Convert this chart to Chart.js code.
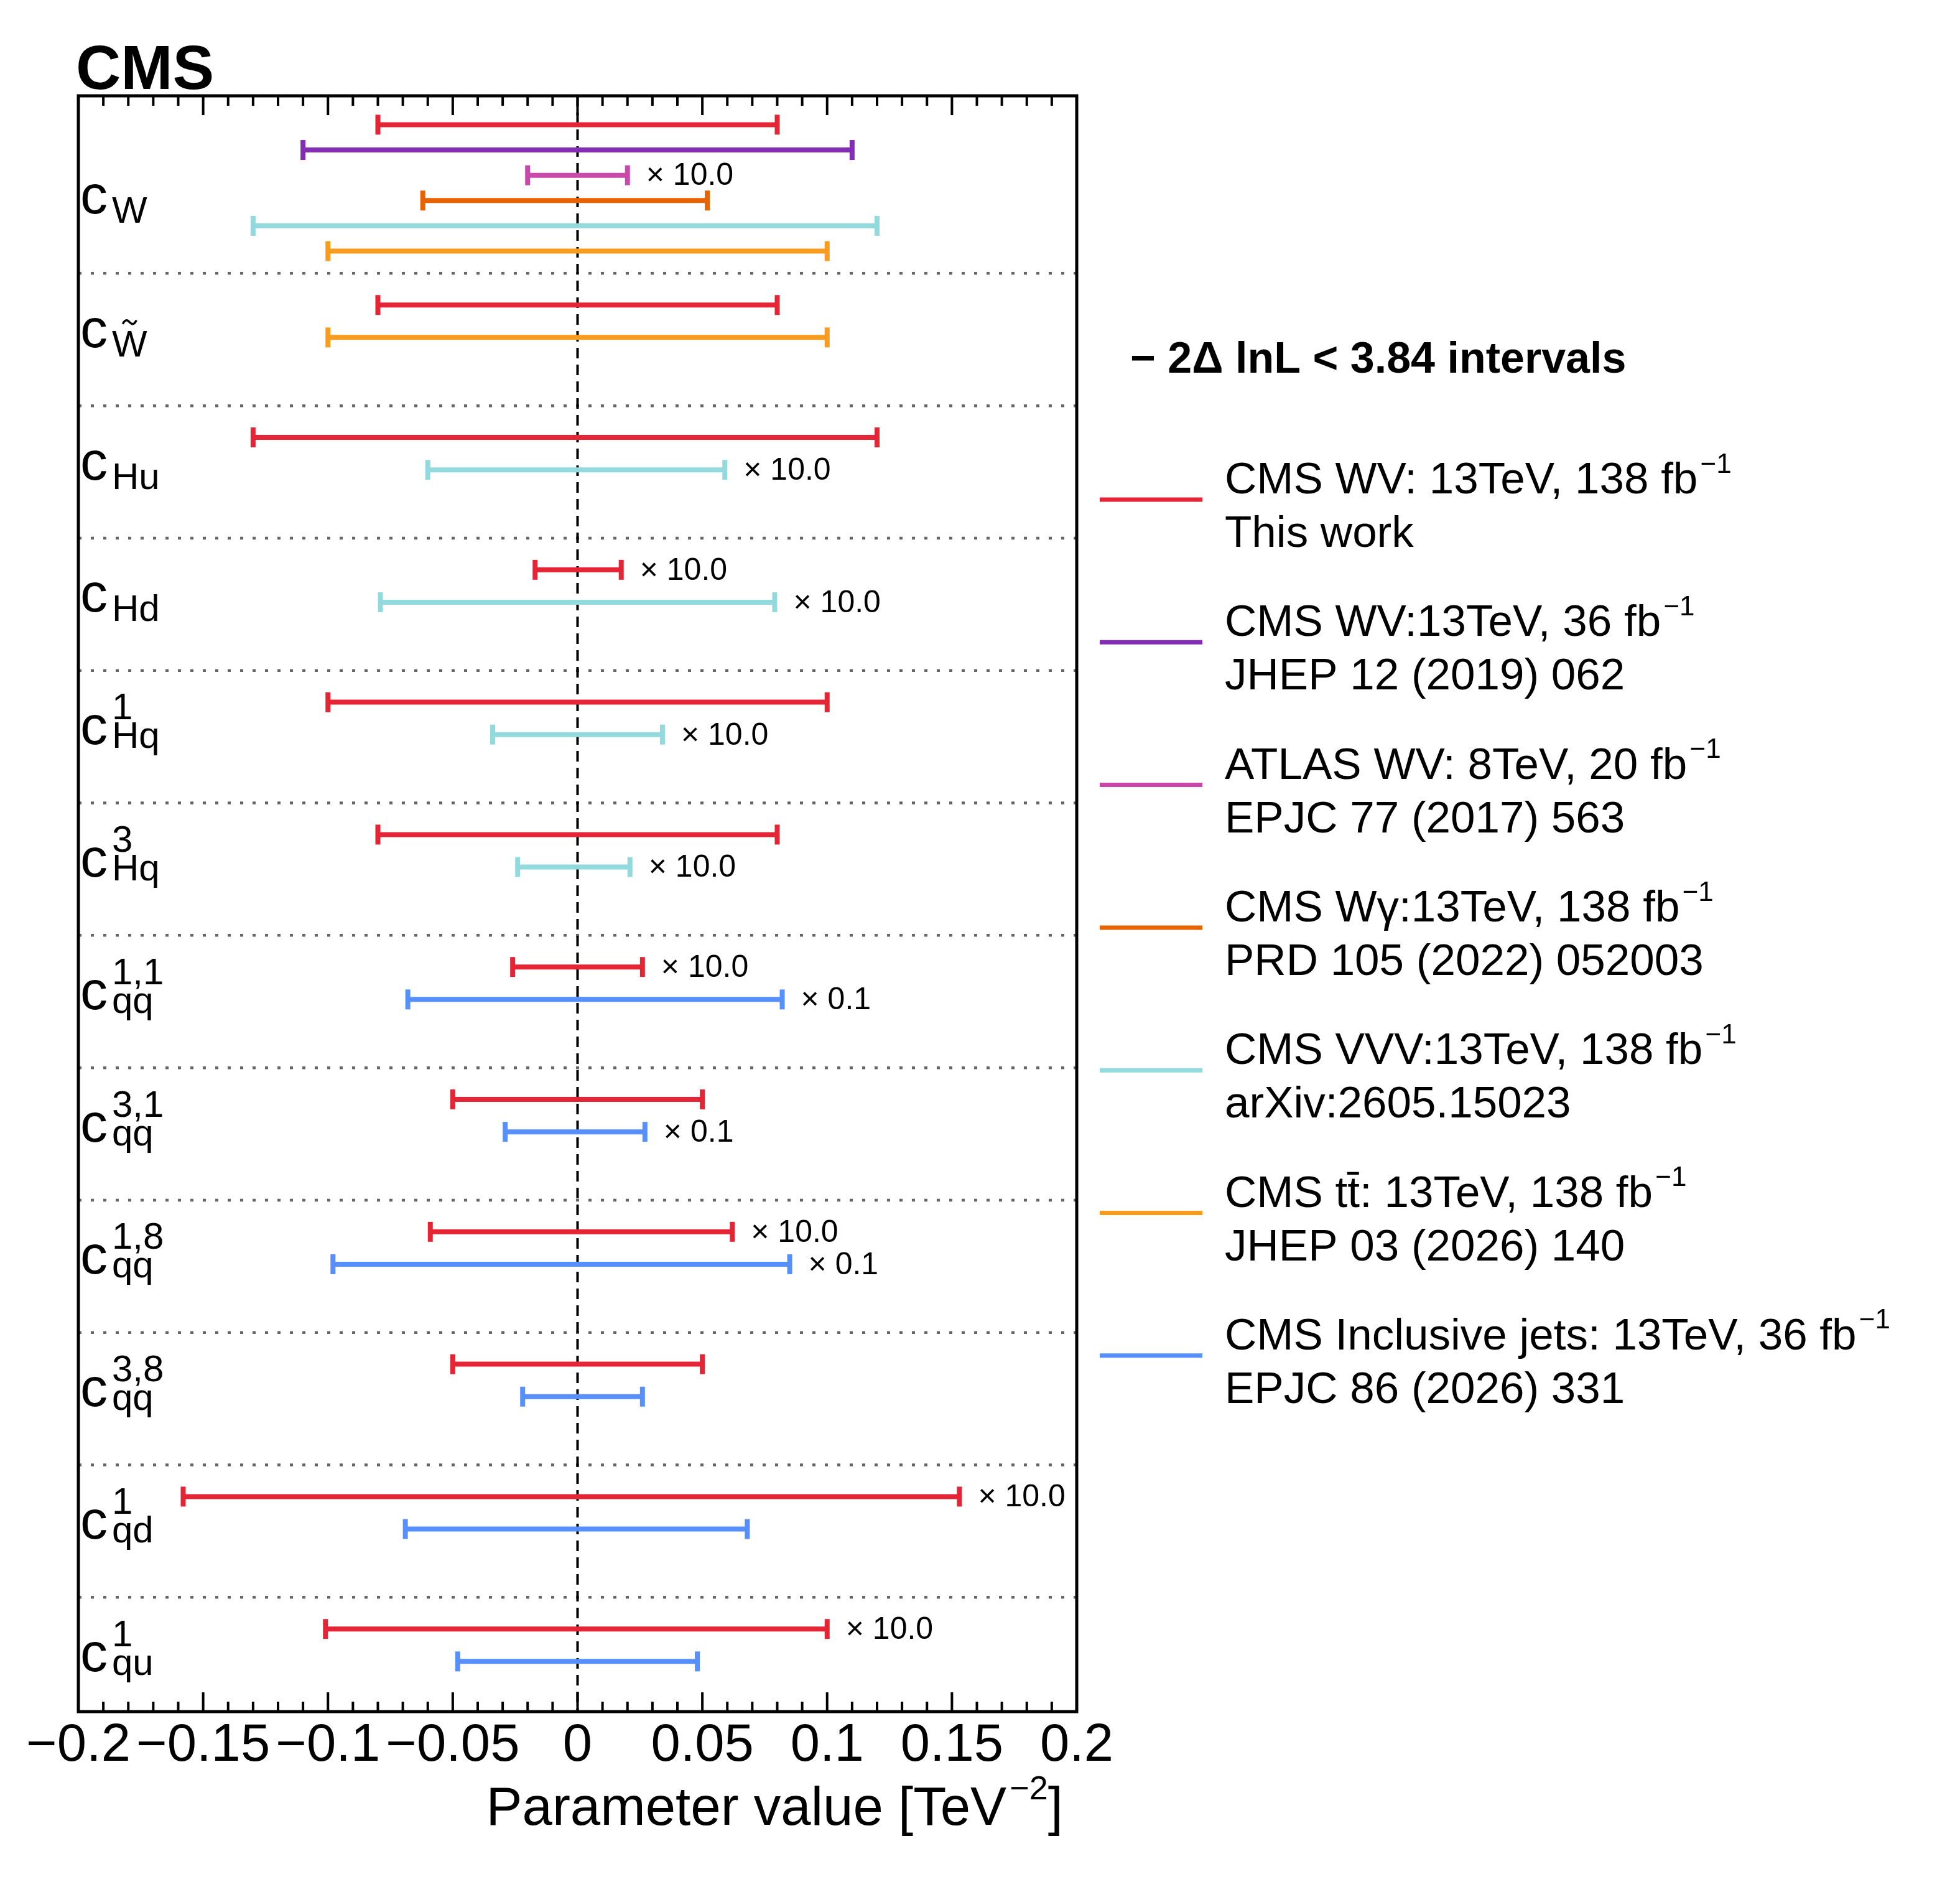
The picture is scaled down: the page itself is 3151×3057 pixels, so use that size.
<!DOCTYPE html>
<html>
<head>
<meta charset="utf-8">
<script src="https://cdn.jsdelivr.net/npm/chart.js@4.4.1/dist/chart.umd.min.js"></script>
<style>
  html, body { margin: 0; padding: 0; background: #fff; }
  #wrap { width: 3151px; height: 3057px; position: relative; }
</style>
</head>
<body>
<div id="wrap"><canvas id="chart"></canvas></div>
<script>
// ---- data ----
var sourceNames = [
  'CMS WV: 13TeV, 138 fb^{\u22121}',
  'CMS WV:13TeV, 36 fb^{\u22121}',
  'ATLAS WV: 8TeV, 20 fb^{\u22121}',
  'CMS W\u03b3:13TeV, 138 fb^{\u22121}',
  'CMS VVV:13TeV, 138 fb^{\u22121}',
  'CMS tt\u0304: 13TeV, 138 fb^{\u22121}',
  'CMS Inclusive jets: 13TeV, 36 fb^{\u22121}'
];
var sourceRefs = [
  'This work',
  'JHEP 12 (2019) 062',
  'EPJC 77 (2017) 563',
  'PRD 105 (2022) 052003',
  'arXiv:2605.15023',
  'JHEP 03 (2026) 140',
  'EPJC 86 (2026) 331'
];
var sourceColors = ['#e42536', '#832db6', '#c849a9', '#e76300', '#92dadd', '#f89c20', '#5790fc'];

var paramSub = ['W', 'W', 'Hu', 'Hd', 'Hq', 'Hq', 'qq', 'qq', 'qq', 'qq', 'qd', 'qu'];
var paramSup = ['', '', '', '', '1', '3', '1,1', '3,1', '1,8', '3,8', '1', '1'];
var paramTilde = [false, true, false, false, false, false, false, false, false, false, false, false];

var entryParam  = [0, 0, 0, 0, 0, 0, 1, 1, 2, 2, 3, 3, 4, 4, 5, 5, 6, 6, 7, 7, 8, 8, 9, 9, 10, 10, 11, 11];
var entrySource = [0, 1, 2, 3, 4, 5, 0, 5, 0, 4, 0, 4, 0, 4, 0, 4, 0, 6, 0, 6, 0, 6, 0, 6, 0, 6, 0, 6];
var entryLow  = [-0.08, -0.11, -0.02, -0.062, -0.13, -0.10, -0.08, -0.10, -0.13, -0.06, -0.017, -0.079,
                 -0.10, -0.034, -0.08, -0.024, -0.026, -0.068, -0.05, -0.029, -0.059, -0.098, -0.05, -0.022,
                 -0.158, -0.069, -0.101, -0.048];
var entryHigh = [0.08, 0.11, 0.02, 0.052, 0.12, 0.10, 0.08, 0.10, 0.12, 0.059, 0.0175, 0.079,
                 0.10, 0.034, 0.08, 0.021, 0.026, 0.082, 0.05, 0.027, 0.062, 0.085, 0.05, 0.026,
                 0.153, 0.068, 0.10, 0.048];
var entryScale = ['', '', '10.0', '', '', '', '', '', '', '10.0', '10.0', '10.0',
                  '', '10.0', '', '10.0', '10.0', '0.1', '', '0.1', '10.0', '0.1', '', '',
                  '10.0', '', '10.0', ''];

var xTicks = [-0.2, -0.15, -0.1, -0.05, 0, 0.05, 0.1, 0.15, 0.2];

// ---- layout of the rows (y axis units, one unit per parameter block) ----
var FONT = '"Liberation Sans", Arial, Helvetica, sans-serif';
var FIRST_BLOCK = 1.341, Y_MAX = 12.204;
var ROW0_OFF = 0.218, ROW0_STEP = 0.191, ROW_OFF = 0.239, ROW_STEP = 0.245;

function blockTop(p) {
	return p === 0 ? 0 : FIRST_BLOCK + (p - 1);
}

function entryY(i) {
	var p = entryParam[i];
	var j = 0;
	for (var k = 0; k < i; k++) {
		if (entryParam[k] === p) j++;
	}
	return p === 0 ? ROW0_OFF + j * ROW0_STEP : blockTop(p) + ROW_OFF + j * ROW_STEP;
}

function fmtTick(v) {
	var r = Math.round(v * 100) / 100;
	if (r === 0) return '0';
	return (r < 0 ? '\u2212' : '') + String(Math.abs(r));
}

// text with ^{...} superscripts
function drawRich(ctx, text, x, y, size, weight) {
	var parts = text.split(/\^\{([^}]*)\}/);
	var cx = x;
	for (var i = 0; i < parts.length; i++) {
		if (!parts[i]) continue;
		if (i % 2 === 1) {
			ctx.font = (weight || '') + ' ' + Math.round(size * 0.62) + 'px ' + FONT;
			cx += size * 0.06;
			ctx.fillText(parts[i], cx, y - size * 0.47);
		} else {
			ctx.font = (weight || '') + ' ' + size + 'px ' + FONT;
			ctx.fillText(parts[i], cx, y);
		}
		cx += ctx.measureText(parts[i]).width;
	}
	return cx;
}

var datasets = sourceNames.map(function (name, s) {
	var pts = [];
	for (var i = 0; i < entrySource.length; i++) {
		if (entrySource[i] !== s) continue;
		var yv = entryY(i);
		pts.push({ x: entryLow[i], y: yv });
		pts.push({ x: entryHigh[i], y: yv });
		pts.push({ x: null, y: null });
	}
	return {
		label: name.replace(/\^\{([^}]*)\}/g, '$1') + ' ' + sourceRefs[s],
		data: pts,
		showLine: true,
		spanGaps: false,
		borderColor: sourceColors[s],
		borderWidth: 8,
		borderCapStyle: 'butt',
		pointStyle: 'line',
		pointRotation: 90,
		pointRadius: 16,
		pointHoverRadius: 16,
		pointBorderWidth: 8,
		pointHoverBorderWidth: 8,
		pointBorderColor: sourceColors[s],
		pointBackgroundColor: sourceColors[s]
	};
});

var decor = {
	id: 'cmsDecor',
	beforeDatasetsDraw: function (chart) {
		var ctx = chart.ctx, a = chart.chartArea, xs = chart.scales.x, ys = chart.scales.y;
		ctx.save();
		ctx.strokeStyle = '#666666';
		ctx.lineWidth = 4.5;
		ctx.setLineDash([5, 15]);
		for (var p = 1; p < paramSub.length; p++) {
			var py = ys.getPixelForValue(blockTop(p));
			ctx.beginPath();
			ctx.moveTo(a.left, py);
			ctx.lineTo(a.right, py);
			ctx.stroke();
		}
		ctx.strokeStyle = '#000';
		ctx.lineWidth = 4;
		ctx.setLineDash([17, 10]);
		var zx = xs.getPixelForValue(0);
		ctx.beginPath();
		ctx.moveTo(zx, a.top);
		ctx.lineTo(zx, a.bottom);
		ctx.stroke();
		ctx.restore();
	},
	afterDatasetsDraw: function (chart) {
		var ctx = chart.ctx, a = chart.chartArea, xs = chart.scales.x, ys = chart.scales.y;
		ctx.save();
		ctx.fillStyle = '#000';
		ctx.strokeStyle = '#000';

		// inward ticks, top and bottom
		ctx.lineWidth = 4;
		for (var k = -19; k <= 19; k++) {
			var tx = xs.getPixelForValue(k / 100);
			var len = (k % 5 === 0) ? 31 : 16;
			ctx.beginPath();
			ctx.moveTo(tx, a.top);
			ctx.lineTo(tx, a.top + len);
			ctx.moveTo(tx, a.bottom);
			ctx.lineTo(tx, a.bottom - len);
			ctx.stroke();
		}
		// frame
		ctx.lineWidth = 5;
		ctx.strokeRect(a.left, a.top, a.right - a.left, a.bottom - a.top);

		// multiplier notes
		ctx.font = '50px ' + FONT;
		ctx.textBaseline = 'middle';
		for (var i = 0; i < entryScale.length; i++) {
			if (!entryScale[i]) continue;
			ctx.fillText('\u00d7 ' + entryScale[i], xs.getPixelForValue(entryHigh[i]) + 30, ys.getPixelForValue(entryY(i)) + 2);
		}

		// parameter labels
		ctx.textBaseline = 'alphabetic';
		for (var p = 0; p < paramSub.length; p++) {
			var sum = 0, n = 0;
			for (var e = 0; e < entryParam.length; e++) {
				if (entryParam[e] === p) { sum += entryY(e); n++; }
			}
			var base = ys.getPixelForValue(sum / n + 0.195);
			var x0 = a.left + 3;
			ctx.font = '88px ' + FONT;
			ctx.fillText('c', x0, base);
			var sx = x0 + ctx.measureText('c').width + 7;
			ctx.font = '60px ' + FONT;
			if (paramSup[p]) ctx.fillText(paramSup[p], sx, base - 40);
			var subBase = base + (paramSup[p] ? 6 : 15);
			ctx.fillText(paramSub[p], sx, subBase);
			if (paramTilde[p]) {
				var cx = sx + ctx.measureText(paramSub[p]).width / 2;
				var ty = subBase - 43 - 12;
				ctx.lineWidth = 3.5;
				ctx.beginPath();
				ctx.moveTo(cx - 11, ty + 3);
				ctx.bezierCurveTo(cx - 6, ty - 7, cx - 2, ty - 2, cx, ty);
				ctx.bezierCurveTo(cx + 2, ty + 2, cx + 6, ty + 7, cx + 11, ty - 3);
				ctx.stroke();
			}
		}
		ctx.restore();
	},
	afterDraw: function (chart) {
		var ctx = chart.ctx, a = chart.chartArea;
		ctx.save();
		ctx.fillStyle = '#000';
		ctx.textBaseline = 'alphabetic';

		// experiment label
		ctx.font = 'bold 100px ' + FONT;
		ctx.fillText('CMS', a.left - 4, a.top - 11);

		// axis title, right aligned to the axis end
		var title = 'Parameter value [TeV^{\u22122}]';
		ctx.font = '87px ' + FONT;
		var w1 = ctx.measureText('Parameter value [TeV').width;
		ctx.font = '54px ' + FONT;
		var w2 = ctx.measureText('\u22122').width + 87 * 0.06;
		ctx.font = '87px ' + FONT;
		var w3 = ctx.measureText(']').width;
		drawRich(ctx, title, a.right - 22 - (w1 + w2 + w3), 2933, 87);

		// legend
		ctx.font = 'bold 70px ' + FONT;
		ctx.fillText('\u2212 2\u0394 lnL < 3.84 intervals', 1817, 599);
		for (var s = 0; s < sourceNames.length; s++) {
			var hy = 803 + s * 229.3;
			ctx.strokeStyle = sourceColors[s];
			ctx.lineWidth = 7;
			ctx.beginPath();
			ctx.moveTo(1768, hy);
			ctx.lineTo(1933, hy);
			ctx.stroke();
			drawRich(ctx, sourceNames[s], 1969, hy - 10, 71);
			ctx.font = '71px ' + FONT;
			ctx.fillText(sourceRefs[s], 1969, hy + 76);
		}
		ctx.restore();
	}
};

new Chart(document.getElementById('chart'), {
	type: 'scatter',
	data: { datasets: datasets },
	options: {
		responsive: true,
		maintainAspectRatio: false,
		devicePixelRatio: 1,
		animation: false,
		events: [],
		layout: { padding: { left: 126, right: 1420, top: 154, bottom: 0 } },
		plugins: {
			legend: { display: false },
			tooltip: { enabled: false }
		},
		scales: {
			x: {
				type: 'linear',
				position: 'bottom',
				min: -0.2,
				max: 0.2,
				grid: { display: false, drawTicks: false },
				border: { display: false },
				afterBuildTicks: function (scale) {
					scale.ticks = xTicks.map(function (v) { return { value: v }; });
				},
				afterFit: function (scale) {
					scale.height = 306;
				},
				ticks: {
					autoSkip: false,
					maxRotation: 0,
					minRotation: 0,
					padding: 5,
					color: '#000',
					font: { family: FONT, size: 85 },
					callback: function (v) { return fmtTick(v); }
				}
			},
			y: {
				type: 'linear',
				display: false,
				reverse: true,
				min: 0,
				max: Y_MAX
			}
		}
	},
	plugins: [decor]
});
</script>
</body>
</html>
